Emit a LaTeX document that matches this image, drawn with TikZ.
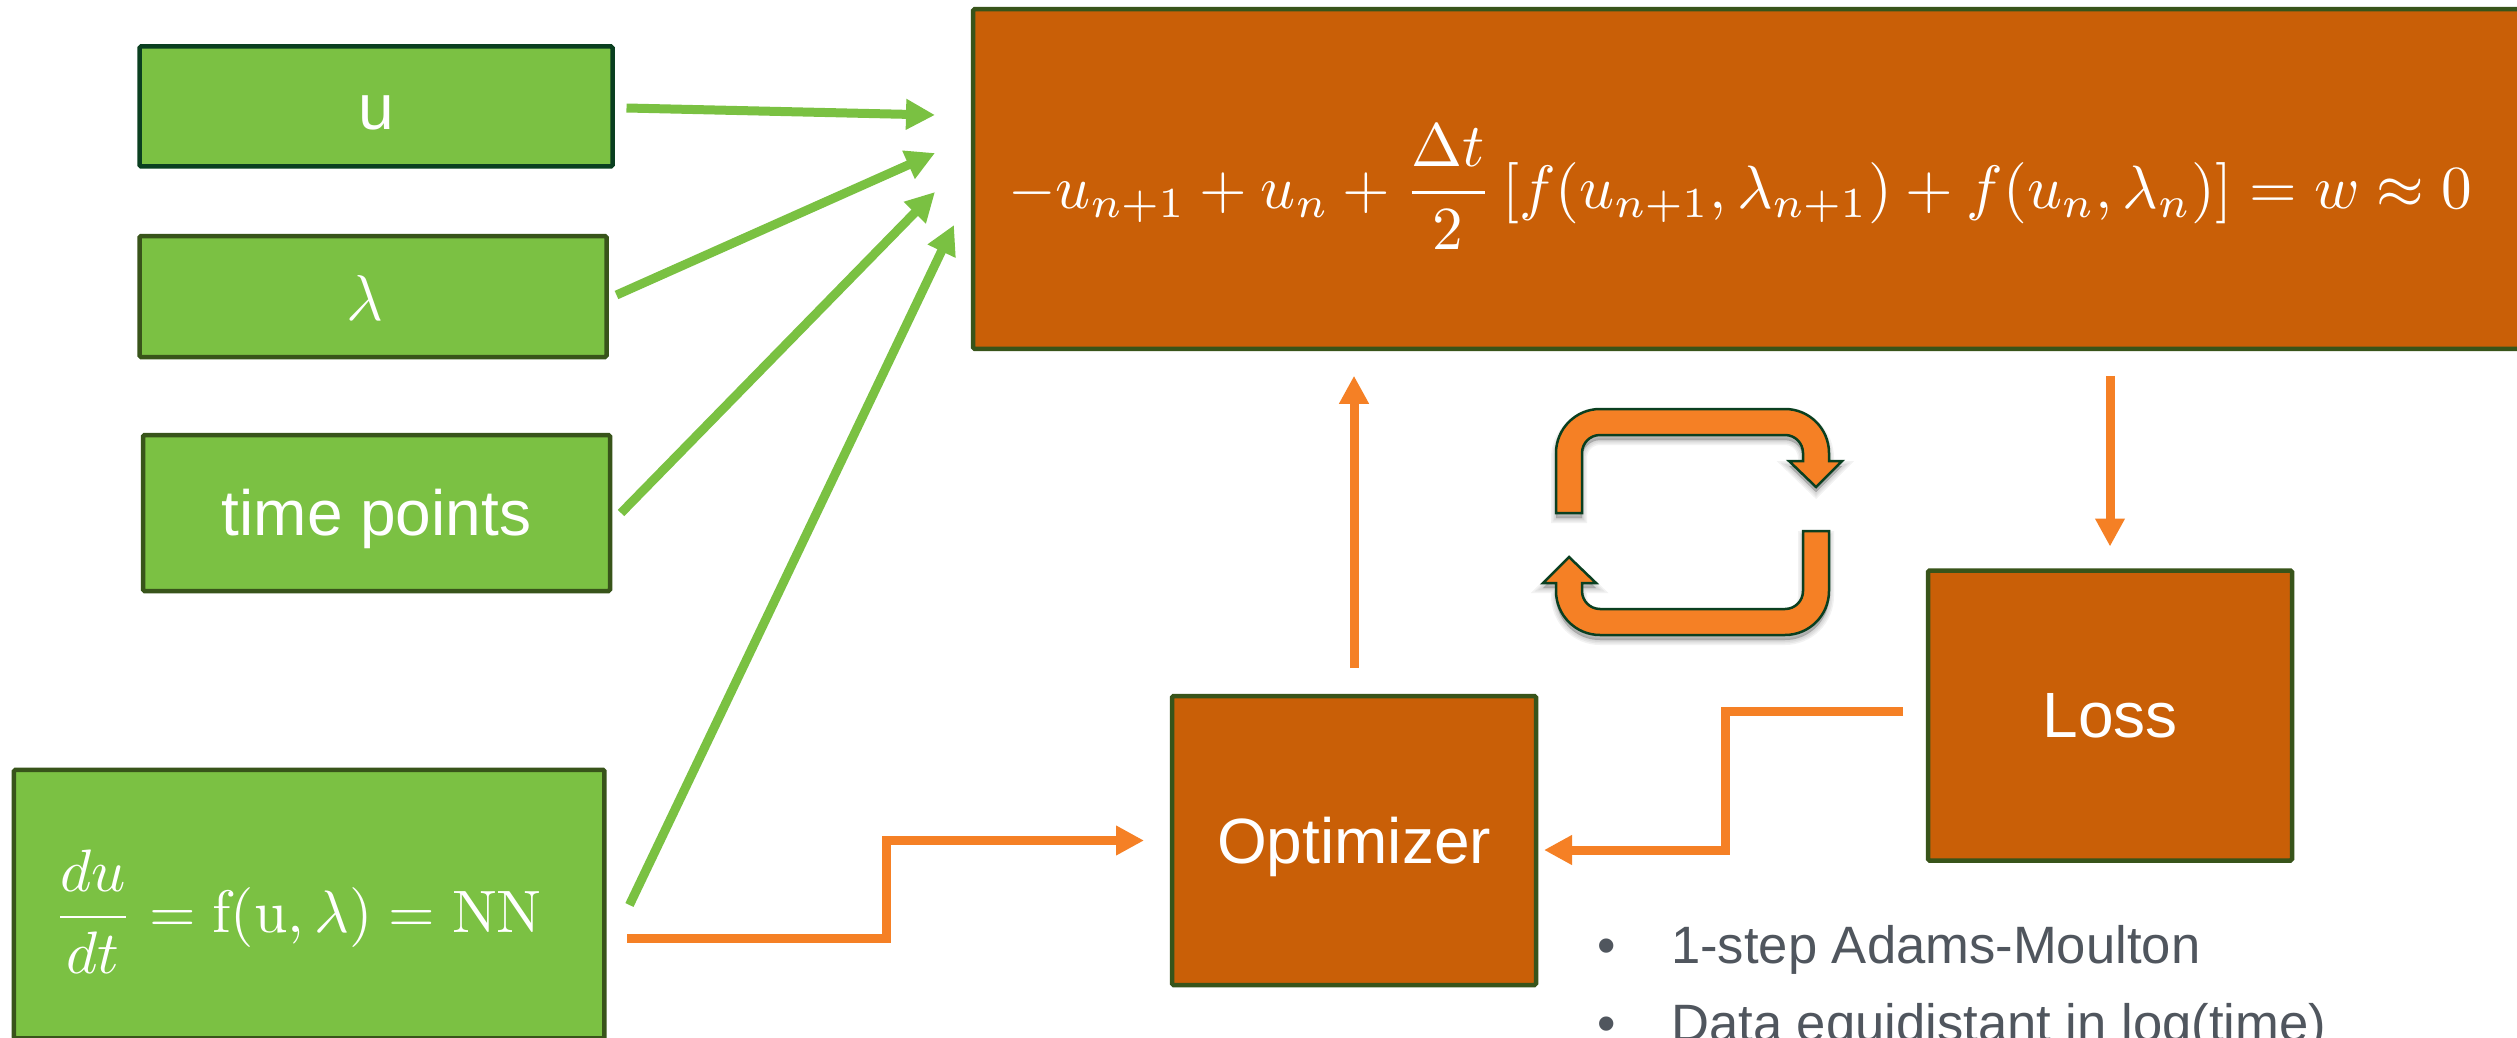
\documentclass[tikz,border=0pt]{standalone}
\usepackage{graphicx}
\usepackage{amsmath}
\usepackage[no-math]{fontspec}
\setmainfont{Liberation Sans}
\usetikzlibrary{arrows.meta}
\definecolor{gfill}{HTML}{7BC143}
\definecolor{ofill}{HTML}{C95F07}
\definecolor{gline}{HTML}{7AC142}
\definecolor{oline}{HTML}{F58025}
\definecolor{bord}{HTML}{38541A}
\definecolor{bordb}{HTML}{0A3F20}
\definecolor{greytext}{HTML}{50565E}
\newcommand{\cycA}{(1556,513) -- (1556,453) arc[start angle=180,end angle=270,radius=44] -- (1785,409) arc[start angle=270,end angle=360,radius=44] -- (1829,461) -- (1842,461) -- (1816,487) -- (1789,461) -- (1803,461) -- (1803,453) arc[start angle=0,end angle=-90,radius=18] -- (1600,435) arc[start angle=-90,end angle=-180,radius=18] -- (1582,513) -- cycle}
\newcommand{\cycB}{(1829,531) -- (1829,591) arc[start angle=0,end angle=90,radius=44] -- (1600,635) arc[start angle=90,end angle=180,radius=44] -- (1556,583) -- (1543,583) -- (1569,557) -- (1596,583) -- (1582,583) -- (1582,591) arc[start angle=180,end angle=90,radius=18] -- (1785,609) arc[start angle=90,end angle=0,radius=18] -- (1803,531) -- cycle}
\tikzset{
  box/.style={draw=bord,line width=4.5pt,rounded corners=1.5pt,outer sep=0pt,inner sep=0pt,text=white,font=\fontsize{64}{70}\selectfont},
  gbox/.style={box,fill=gfill},
  obox/.style={box,fill=ofill},
  garrow/.style={draw=gline,line width=9pt,-{Triangle[length=29pt,width=29pt]}},
  oarrow/.style={draw=oline,line width=9pt,miter limit=10,-{Triangle[length=28pt,width=28pt]}},
  cyc/.style={fill=oline,draw=bordb,line width=2.5pt,line join=miter},
  cycshadow/.style={fill=black,draw=black,fill opacity=.05,draw opacity=.05},
  bullettext/.style={anchor=base west,inner sep=0pt,text=greytext,font=\fontsize{52.6}{60}\selectfont},
}
\begin{document}
\begin{tikzpicture}[x=1pt,y=-1pt]
\useasboundingbox (0,0) rectangle (2517,1038);
\clip (0,0) rectangle (2517,1038);
\fill[white] (0,0) rectangle (2517,1038);
% boxes
\node[gbox,draw=bordb,minimum width=473pt,minimum height=120pt] (u) at (376,106.5) {\raisebox{-23.5pt}[0pt][0pt]{u}};
\node[gbox,minimum width=467pt,minimum height=121pt] (lam) at (373,296.5) {\hspace*{-16pt}\raisebox{-23.5pt}[0pt][0pt]{\resizebox{!}{45pt}{$\lambda$}}};
\node[gbox,minimum width=467pt,minimum height=156pt] (tp) at (376.5,513) {\raisebox{-22pt}[0pt][0pt]{time points}};
\node[gbox,minimum width=590.5pt,minimum height=268.5pt] (nn) at (309.2,904) {};
\node[obox,minimum width=1587pt,minimum height=339.5pt] (big) at (1766.5,179) {};
\node[obox,minimum width=364pt,minimum height=289pt] (opt) at (1354,840.5) {\raisebox{-22.5pt}[0pt][0pt]{Optimizer}};
\node[obox,minimum width=364pt,minimum height=290pt] (loss) at (2110,715.5) {Loss};
% formulas
\node[anchor=base,inner sep=0pt,text=white] (nneq) at (297.5,932) {\resizebox{489pt}{!}{$\displaystyle\frac{du}{dt}=\mathrm{f}(\mathrm{u},\lambda)=\mathrm{NN}$}};
\node[anchor=base,inner sep=0pt,text=white] (bigeq) at (1740,208) {\resizebox{1463pt}{!}{$\displaystyle -u_{n+1}+u_n+\frac{\Delta t}{2}\left[f(u_{n+1},\lambda_{n+1})+f(u_n,\lambda_n)\right]=w\approx 0$}};
% tips
\coordinate (tipu) at (935,115);
\coordinate (tiplam) at (935,153);
\coordinate (tiptp) at (935,192);
\coordinate (tipnn) at (954,225);
\coordinate (elbowa) at (886,840.5);
\coordinate (elbowb) at (1725,850);
% green arrows
\draw[garrow] ([xshift=14pt,yshift=-1.5pt]u.east) -- (tipu);
\draw[garrow] ([xshift=10pt,yshift=1.5pt]lam.east) -- (tiplam);
\draw[garrow] ([xshift=11pt]tp.east) -- (tiptp);
\draw[garrow] ([xshift=25pt,yshift=-1pt]nn.east) -- (tipnn);
% orange arrows
\draw[oarrow] ([xshift=23pt,yshift=-34pt]nn.east) -| (elbowa) -- ([xshift=-28pt]opt.west);
\draw[oarrow] ([yshift=28pt]opt.north) -- ([yshift=-27pt]big.south -| opt.north);
\draw[oarrow] ([yshift=-27pt]big.south -| loss.north) -- ([yshift=24pt]loss.north);
\draw[oarrow] ([xshift=-25pt,yshift=4pt]loss.west) -| (elbowb) -- ([xshift=8pt,yshift=-9.5pt]opt.east);
% cycle arrows
\foreach \w in {1,4,7,10}{
  \path[cycshadow,line width=\w pt,shift={(0,5)}] \cycA;
  \path[cycshadow,line width=\w pt,shift={(0,5)}] \cycB;
}
\path[cyc] \cycA;
\path[cyc] \cycB;
% bullets
\node[bullettext] (b1) at (1597,963) {\makebox[74pt][l]{•}1-step Adams-Moulton};
\node[bullettext] (b2) at (1597,1041) {\makebox[74pt][l]{•}Data equidistant in log(time)};
\end{tikzpicture}
\end{document}
